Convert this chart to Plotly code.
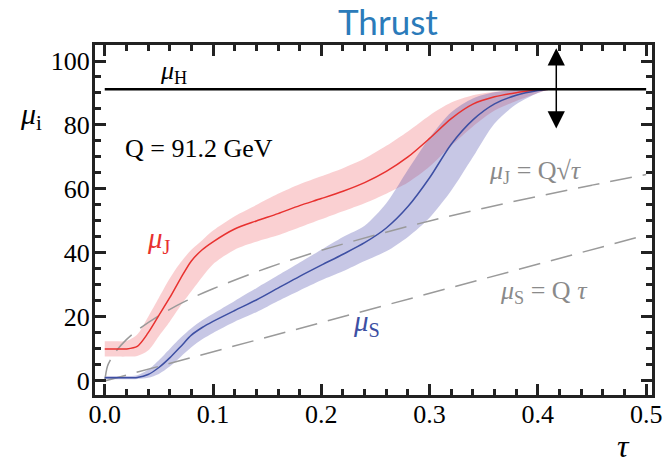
import plotly.graph_objects as go

Q = 91.2
MU_H = 91.2

tau = [0, 0.01, 0.02, 0.03, 0.04, 0.05, 0.06, 0.07, 0.08, 0.09, 0.10,
       0.12, 0.14, 0.16, 0.18, 0.20, 0.22, 0.24, 0.26, 0.28, 0.30,
       0.32, 0.34, 0.36, 0.38, 0.40, 0.41]

muJ_center = [10, 10, 10, 10.8, 15, 20.5, 26, 32, 37.5, 41, 43.5,
              47.5, 50, 52.3, 54.8, 57, 59.3, 62, 65.5, 70, 75.8,
              82, 86.5, 88.8, 90.1, 90.9, 91.2]
muJ_upper = [12.4, 12.4, 12.5, 14.5, 20, 26, 32, 37, 41, 44, 47,
             51.5, 55, 58.5, 61.5, 64, 66.5, 69.5, 73.5, 78, 83,
             87, 89.3, 90.4, 90.9, 91.1, 91.2]
muJ_lower = [7.6, 7.6, 7.6, 7.8, 9.5, 14, 18.5, 23.5, 28, 32.5, 36.5,
             41, 43.5, 45.5, 48, 50.5, 53, 55.5, 58.5, 62, 67,
             73.5, 79.5, 84.5, 87.5, 90, 91.2]

muS_center = [1.0, 1.0, 1.0, 1.1, 2.0, 4.2, 7.2, 10.7, 14.3, 16.7, 18.6,
              22, 25.3, 29, 32.7, 36.2, 39.6, 43.2, 47.8, 54.5, 63.5,
              74, 81.6, 86.6, 89.3, 90.8, 91.2]
muS_upper = [1.5, 1.5, 1.5, 1.8, 3.5, 6.5, 10, 13.5, 16.5, 19, 21,
             25, 29, 33, 37, 41, 45, 48.5, 55.5, 66, 76,
             84, 88.3, 90.2, 90.9, 91.1, 91.2]
muS_lower = [0.5, 0.5, 0.5, 0.6, 1.0, 2.2, 4.5, 7.5, 10.5, 13, 15,
             18.5, 21.5, 25, 28.3, 31.5, 34.3, 37.5, 40.5, 45, 51,
             59.5, 70, 80.5, 86.5, 90, 91.2]

# reference curves: mu_J = Q sqrt(tau), mu_S = Q tau
tau_ref = [0, 0.0025, 0.005, 0.01, 0.02, 0.03, 0.05, 0.075, 0.1, 0.15,
           0.2, 0.25, 0.3, 0.35, 0.4, 0.45, 0.5]
muJ_ref = [0, 4.6, 6.4, 9.1, 12.9, 15.8, 20.4, 25.0, 28.8, 35.3,
           40.8, 45.6, 50.0, 54.0, 57.7, 61.2, 64.5]
tauS_ref = [0, 0.5]
muS_ref = [0, 45.6]

tau_H = [0, 0.5]
muH_line = [MU_H, MU_H]

x_ticks = [0, 0.1, 0.2, 0.3, 0.4, 0.5]
x_labels = ["0.0", "0.1", "0.2", "0.3", "0.4", "0.5"]
y_ticks = [0, 20, 40, 60, 80, 100]
y_labels = ["0", "20", "40", "60", "80", "100"]

RED = "#e8312f"
BLUE = "#3d4fa3"
GRAY = "#9a9a9a"
SERIF = "Liberation Serif"

fig = go.Figure()

def band(up, lo, color):
    return go.Scatter(x=tau + tau[::-1], y=up + lo[::-1], fill="toself",
                      fillcolor=color, line=dict(width=0, shape="spline", smoothing=0.8),
                      mode="lines", hoverinfo="skip", showlegend=False)

fig.add_trace(band(muJ_upper, muJ_lower, "rgba(235,80,90,0.27)"))
fig.add_trace(band(muS_upper, muS_lower, "rgba(70,70,170,0.30)"))

fig.add_trace(go.Scatter(x=tau_ref, y=muJ_ref, mode="lines",
                         line=dict(color=GRAY, width=1.5, dash="22px,11px", shape="spline"),
                         showlegend=False))
fig.add_trace(go.Scatter(x=tauS_ref, y=muS_ref, mode="lines",
                         line=dict(color=GRAY, width=1.5, dash="22px,11px"),
                         showlegend=False))

fig.add_trace(go.Scatter(x=tau, y=muJ_center, mode="lines",
                         line=dict(color=RED, width=1.5, shape="spline", smoothing=0.8),
                         showlegend=False))
fig.add_trace(go.Scatter(x=tau, y=muS_center, mode="lines",
                         line=dict(color=BLUE, width=1.5, shape="spline", smoothing=0.8),
                         showlegend=False))

fig.add_trace(go.Scatter(x=tau_H, y=muH_line, mode="lines",
                         line=dict(color="black", width=2.5), showlegend=False))

# double arrow
fig.add_annotation(x=0.417, y=104, ax=0.417, ay=78.4, xref="x", yref="y",
                   axref="x", ayref="y", text="", showarrow=True,
                   arrowside="end+start", arrowhead=2, startarrowhead=2,
                   arrowsize=2.3, startarrowsize=2.3, arrowwidth=1.5, arrowcolor="black")

fig.add_annotation(x=0.0635, y=96.6, text="<i>μ</i><sub>H</sub>", showarrow=False,
                   font=dict(family=SERIF, size=26, color="black"))
fig.add_annotation(x=0.087, y=72.8, text="Q = 91.2 GeV", showarrow=False,
                   font=dict(family=SERIF, size=26, color="black"))
fig.add_annotation(x=0.05, y=44, text="<i>μ</i><sub>J</sub>", showarrow=False,
                   font=dict(family=SERIF, size=29, color=RED))
fig.add_annotation(x=0.242, y=18, text="<i>μ</i><sub>S</sub>", showarrow=False,
                   font=dict(family=SERIF, size=29, color=BLUE))
fig.add_annotation(x=0.398, y=65.3, text="<i>μ</i><sub>J</sub> = Q√<i>τ</i>", showarrow=False,
                   font=dict(family=SERIF, size=26, color="#8a8a8a"))
fig.add_annotation(x=0.406, y=27.8, text="<i>μ</i><sub>S</sub> = Q <i>τ</i>", showarrow=False,
                   font=dict(family=SERIF, size=26, color="#8a8a8a"))

# axis labels
fig.add_annotation(xref="paper", yref="paper", x=-0.115, y=0.797,
                   xanchor="center", yanchor="middle",
                   text="<i>μ</i><sub>i</sub>", showarrow=False,
                   font=dict(family=SERIF, size=30, color="black"))
fig.add_annotation(xref="paper", yref="paper", x=0.948, y=-0.145,
                   xanchor="center", yanchor="middle",
                   text="<i>τ</i>", showarrow=False,
                   font=dict(family=SERIF, size=32, color="black"))

axis_common = dict(showline=True, linewidth=3, linecolor="#222222", mirror="ticks",
                   ticks="inside", tickwidth=2.5, tickcolor="#222222", ticklen=11,
                   showgrid=False, zeroline=False,
                   tickfont=dict(family=SERIF, size=26, color="black"))

fig.update_xaxes(range=[-0.009, 0.5054], tickvals=x_ticks, ticktext=x_labels,
                 ticklabelstandoff=-6,
                 minor=dict(ticks="inside", dtick=0.02, ticklen=6, tickwidth=2.5,
                            tickcolor="#222222"),
                 **axis_common)
fig.update_yaxes(range=[-4.4, 105], tickvals=y_ticks, ticktext=y_labels,
                 ticklabelstandoff=-3,
                 minor=dict(ticks="inside", dtick=5, ticklen=6, tickwidth=2.5,
                            tickcolor="#222222"),
                 **axis_common)

fig.update_layout(
    width=670, height=468,
    margin=dict(l=95, r=8, t=45, b=73),
    plot_bgcolor="white", paper_bgcolor="white",
    title=dict(text="Thrust", x=0.579, xanchor="center", y=0.951, yanchor="middle",
               font=dict(family="Lato", size=35, color="#2b7bba")),
)

fig.write_html("out.html")
